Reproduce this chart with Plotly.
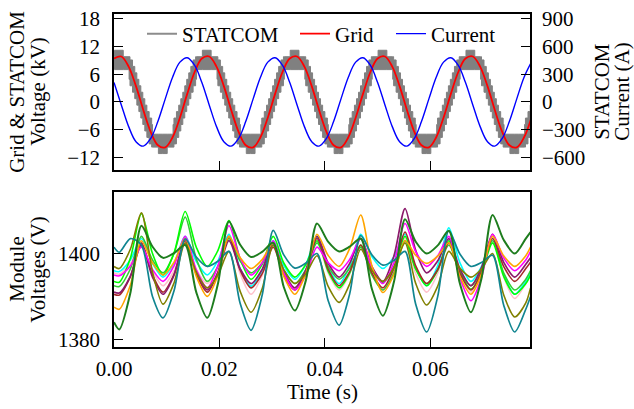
import plotly.graph_objects as go

FONT = "Liberation Serif"
FSIZE = 21
FREQ = 60.0                 # grid frequency (Hz)
SAMPLE_DT = 1.0 / 720.0     # 12 samples per grid cycle
T_END = 0.0789

# ---- top panel: grid voltage (kV) and STATCOM current (A) -------------
grid_kv = [
    9.40, 9.85, 7.66, 3.42, -1.74, -6.43, -9.40, -9.85, -7.66, -3.42, 1.74, 6.43,
    9.40, 9.85, 7.66, 3.42, -1.74, -6.43, -9.40, -9.85, -7.66, -3.42, 1.74, 6.43,
    9.40, 9.85, 7.66, 3.42, -1.74, -6.43, -9.40, -9.85, -7.66, -3.42, 1.74, 6.43,
    9.40, 9.85, 7.66, 3.42, -1.74, -6.43, -9.40, -9.85, -7.66, -3.42, 1.74, 6.43,
    9.40, 9.85, 7.66, 3.42, -1.74, -6.43, -9.40, -9.85, -7.66, -3.42,
]
current_a = [
    210, -33, -268, -431, -479, -398, -210, 33, 268, 431, 479, 398,
    210, -33, -268, -431, -479, -398, -210, 33, 268, 431, 479, 398,
    210, -33, -268, -431, -479, -398, -210, 33, 268, 431, 479, 398,
    210, -33, -268, -431, -479, -398, -210, 33, 268, 431, 479, 398,
    210, -33, -268, -431, -479, -398, -210, 33, 268, 431,
]

# STATCOM multilevel output: switching band per grid cycle.
# phase in degrees from the grid-voltage peak, lower / upper edge in kV
statcom_phase = [-180, -162, -138, -134.4, -124.1, -114.8, -106.3, -98.1, -90.0, -82.0,
                 -73.7, -65.2, -55.9, -45.6, -42, -18, 18, 42, 45.6, 55.9,
                 65.2, 73.7, 82.0, 90.0, 98.1, 106.3, 114.8, 124.1, 134.4, 138, 162]
statcom_lo = [-11.2, -9.8, -9.8, -9.1, -7.7, -6.3, -4.9, -3.5, -2.1, -0.7,
              0.7, 2.1, 3.5, 4.9, 7.0, 7.0, 7.0, 4.9, 3.5, 2.1,
              0.7, -0.7, -2.1, -3.5, -4.9, -6.3, -7.7, -9.1, -9.8, -9.8, -11.2]
statcom_hi = [-7.0, -7.0, -4.9, -3.5, -2.1, -0.7, 0.7, 2.1, 3.5, 4.9,
              6.3, 7.7, 9.1, 9.8, 9.8, 11.2, 9.8, 9.8, 9.1, 7.7,
              6.3, 4.9, 3.5, 2.1, 0.7, -0.7, -2.1, -3.5, -4.9, -7.0, -7.0]
grid_peak_times = [0.00092, 0.01759, 0.03425, 0.05092, 0.06759, 0.08426]

# ---- bottom panel: module capacitor voltages (V) -----------------------
mod_t = [0.0000, 0.0010, 0.0031, 0.0052, 0.0073, 0.0093, 0.0114, 0.0135, 0.0156, 0.0177,
         0.0197, 0.0218, 0.0239, 0.0260, 0.0281, 0.0302, 0.0322, 0.0343, 0.0364, 0.0385,
         0.0406, 0.0427, 0.0447, 0.0468, 0.0489, 0.0510, 0.0531, 0.0552, 0.0572, 0.0593,
         0.0614, 0.0635, 0.0656, 0.0677, 0.0697, 0.0718, 0.0739, 0.0760, 0.0781, 0.0790]

mod_pink = [1395.5, 1395.2, 1397.6, 1402.0, 1395.8, 1392.5, 1396.0, 1402.5, 1396.3, 1393.0,
            1397.0, 1404.5, 1395.4, 1390.5, 1394.9, 1403.0, 1395.9, 1392.0, 1395.9, 1403.0,
            1395.5, 1391.5, 1395.2, 1402.0, 1395.2, 1391.5, 1395.7, 1403.5, 1395.4, 1391.0,
            1395.4, 1403.5, 1395.4, 1391.0, 1395.6, 1404.0, 1394.6, 1389.5, 1393.0, 1395.0]
mod_cyan = [1396.0, 1395.8, 1398.5, 1403.5, 1397.7, 1394.5, 1397.8, 1404.0, 1398.2, 1395.0,
            1398.3, 1404.5, 1396.6, 1392.4, 1396.1, 1403.0, 1397.2, 1394.0, 1397.5, 1404.0,
            1396.9, 1393.0, 1397.0, 1404.5, 1399.3, 1396.5, 1399.3, 1404.5, 1396.7, 1392.5,
            1397.2, 1406.0, 1397.9, 1393.5, 1397.0, 1403.5, 1395.1, 1390.5, 1393.5, 1395.5]
mod_limegreen = [1392.5, 1392.3, 1396.4, 1404.0, 1398.5, 1395.5, 1400.1, 1408.5, 1398.8, 1393.5,
                 1397.0, 1403.5, 1398.3, 1395.5, 1397.8, 1402.0, 1396.2, 1393.0, 1396.3, 1402.5,
                 1397.0, 1394.0, 1396.6, 1401.5, 1395.0, 1391.5, 1395.5, 1403.0, 1396.5, 1393.0,
                 1396.2, 1402.0, 1395.8, 1392.5, 1396.2, 1403.0, 1395.5, 1391.5, 1394.0, 1396.0]
mod_lime = [1393.5, 1393.3, 1398.9, 1409.3, 1400.0, 1395.0, 1400.2, 1409.8, 1401.5, 1397.0,
            1400.7, 1407.7, 1398.8, 1394.0, 1397.5, 1404.0, 1397.8, 1394.5, 1397.5, 1403.0,
            1395.9, 1392.0, 1395.5, 1402.0, 1396.3, 1393.2, 1397.0, 1404.0, 1396.5, 1392.5,
            1396.2, 1403.0, 1395.7, 1391.7, 1395.5, 1402.5, 1394.7, 1390.5, 1393.0, 1395.0]
mod_brown = [1390.5, 1390.3, 1394.6, 1402.5, 1395.0, 1391.0, 1395.2, 1403.0, 1395.2, 1391.0,
             1395.6, 1404.0, 1396.2, 1392.0, 1395.3, 1401.5, 1395.0, 1391.5, 1395.7, 1403.5,
             1396.4, 1392.5, 1395.8, 1402.0, 1395.5, 1392.0, 1396.6, 1405.0, 1397.2, 1393.0,
             1396.3, 1402.5, 1395.4, 1391.5, 1395.7, 1403.5, 1397.0, 1393.5, 1396.5, 1398.0]
mod_purple = [1391.0, 1390.8, 1394.7, 1402.0, 1394.5, 1390.5, 1395.0, 1403.5, 1395.7, 1391.5,
              1395.5, 1403.0, 1396.5, 1393.0, 1396.3, 1402.5, 1395.7, 1392.0, 1396.2, 1404.0,
              1397.8, 1394.5, 1397.7, 1403.5, 1397.0, 1393.5, 1399.5, 1410.5, 1400.8, 1395.5,
              1398.3, 1403.5, 1396.4, 1392.5, 1396.7, 1404.5, 1398.0, 1394.5, 1397.5, 1399.0]
mod_magenta = [1395.0, 1394.8, 1397.1, 1401.5, 1396.3, 1393.5, 1397.2, 1404.0, 1396.2, 1392.0,
               1397.1, 1406.5, 1399.0, 1395.0, 1397.8, 1403.0, 1395.5, 1391.5, 1395.0, 1401.5,
               1397.9, 1396.0, 1398.6, 1403.5, 1396.7, 1393.0, 1397.9, 1407.0, 1400.5, 1397.0,
               1399.5, 1404.0, 1394.3, 1389.0, 1394.4, 1404.5, 1399.0, 1396.0, 1398.5, 1400.5]
mod_orange = [1387.5, 1387.0, 1392.6, 1403.0, 1397.8, 1395.0, 1398.0, 1403.5, 1394.7, 1390.0,
              1394.9, 1404.0, 1399.1, 1396.5, 1398.6, 1402.5, 1394.7, 1390.5, 1395.4, 1404.5,
              1399.6, 1397.0, 1401.2, 1409.0, 1397.2, 1390.9, 1395.1, 1403.0, 1399.6, 1397.7,
              1399.4, 1402.5, 1394.7, 1390.5, 1395.2, 1404.0, 1399.5, 1397.0, 1399.5, 1401.5]
mod_olive = [1397.0, 1396.5, 1401.0, 1409.5, 1395.7, 1388.2, 1393.2, 1402.5, 1395.7, 1392.0,
             1395.0, 1400.5, 1391.3, 1386.3, 1391.8, 1402.0, 1396.2, 1393.0, 1395.3, 1399.5,
             1392.4, 1388.6, 1392.9, 1401.0, 1396.1, 1393.5, 1396.7, 1402.5, 1393.1, 1388.0,
             1392.4, 1400.5, 1396.6, 1394.5, 1396.4, 1400.0, 1390.4, 1385.2, 1388.5, 1392.0]
mod_teal = [1401.5, 1400.3, 1403.5, 1402.0, 1390.0, 1385.0, 1391.4, 1403.4, 1399.2, 1397.0,
            1398.2, 1400.5, 1388.5, 1382.1, 1390.3, 1405.4, 1399.7, 1396.6, 1397.8, 1400.0,
            1389.1, 1383.3, 1390.6, 1404.2, 1399.7, 1397.3, 1398.4, 1400.5, 1388.3, 1381.7,
            1390.0, 1405.3, 1399.9, 1397.0, 1397.9, 1399.6, 1388.0, 1381.7, 1387.0, 1390.0]
mod_green = [1384.0, 1382.3, 1390.8, 1406.5, 1401.6, 1399.0, 1400.1, 1402.0, 1391.0, 1385.0,
             1392.9, 1407.5, 1402.1, 1399.2, 1400.4, 1402.5, 1392.2, 1386.7, 1393.8, 1407.0,
             1402.8, 1400.5, 1401.6, 1403.5, 1391.8, 1385.5, 1393.4, 1408.0, 1402.8, 1400.0,
             1401.9, 1405.3, 1393.0, 1386.3, 1394.2, 1409.0, 1403.2, 1400.0, 1403.5, 1405.0]

modules = [
    (mod_pink, "#ffc0cb", 1.6), (mod_cyan, "#00ffff", 1.6), (mod_limegreen, "#32cd32", 1.6),
    (mod_lime, "#00ff00", 1.6), (mod_brown, "#a52a2a", 1.6), (mod_purple, "#8b1a6b", 1.7),
    (mod_magenta, "#ff00ff", 1.6), (mod_orange, "#ffa500", 1.6), (mod_olive, "#808000", 1.6),
    (mod_teal, "#108590", 1.7), (mod_green, "#1e7d1e", 2.0),
]

fig = go.Figure()

# STATCOM band, one switching pattern per grid cycle
sx, slo, shi = [], [], []
for tc in grid_peak_times:
    for ph, lo, hi in zip(statcom_phase, statcom_lo, statcom_hi):
        sx.append(tc + ph / 360.0 / FREQ)
        slo.append(lo)
        shi.append(hi)
sx.append(grid_peak_times[-1] + 0.5 / FREQ)
slo.append(statcom_lo[-1])
shi.append(statcom_hi[-1])

band_color = "rgb(128,128,128)"
fig.add_trace(go.Scatter(x=sx, y=slo, mode="lines", line=dict(color=band_color, width=1, shape="hv"),
                         showlegend=False, hoverinfo="skip", xaxis="x", yaxis="y"))
fig.add_trace(go.Scatter(x=sx, y=shi, mode="lines", line=dict(color=band_color, width=1, shape="hv"),
                         fill="tonexty", fillcolor=band_color, showlegend=False, hoverinfo="skip",
                         xaxis="x", yaxis="y"))
# legend entry for the converter voltage
fig.add_trace(go.Scatter(x=[None], y=[None], mode="lines", name="STATCOM", legend="legend",
                         line=dict(color="#8c8c8c", width=2), xaxis="x", yaxis="y"))

t_grid = [i * SAMPLE_DT for i in range(len(grid_kv))]
fig.add_trace(go.Scatter(x=t_grid, y=grid_kv, mode="lines", name="Grid", legend="legend2",
                         line=dict(color="#ff0000", width=1.8, shape="spline"), xaxis="x", yaxis="y"))
t_cur = [i * SAMPLE_DT for i in range(len(current_a))]
fig.add_trace(go.Scatter(x=t_cur, y=current_a, mode="lines", name="Current", legend="legend3",
                         line=dict(color="#0000ff", width=1.4, shape="spline"), xaxis="x", yaxis="y2"))

for vals, col, w in modules:
    fig.add_trace(go.Scatter(x=mod_t, y=vals, mode="lines", showlegend=False,
                             line=dict(color=col, width=w, shape="spline", smoothing=0.8),
                             xaxis="x2", yaxis="y3"))

tickfont = dict(family=FONT, size=FSIZE, color="black")
common = dict(showline=True, linecolor="black", linewidth=1.6, ticks="inside", ticklen=9,
              tickwidth=1.4, tickcolor="black", showgrid=False, zeroline=False, tickfont=tickfont)

TOP = [0.5324, 1.0]
BOT = [0.0, 0.4647]
xticks = [0.0, 0.02, 0.04, 0.06]

def legend_at(xpx):
    return dict(orientation="h", x=(xpx - 114) / 416.0, xanchor="left", y=0.94, yanchor="middle",
                bgcolor="rgba(0,0,0,0)", font=dict(family=FONT, size=FSIZE), itemwidth=30)

fig.update_layout(
    width=634, height=409,
    margin=dict(l=114, r=104, t=7, b=62),
    plot_bgcolor="white", paper_bgcolor="white",
    font=dict(family=FONT, size=FSIZE, color="black"),
    xaxis=dict(common, domain=[0, 1], anchor="y", range=[0, T_END], tickvals=xticks,
               showticklabels=False, mirror=True),
    yaxis=dict(common, domain=TOP, anchor="x", range=[-14.7, 19.06], tickvals=[-12, -6, 0, 6, 12, 18],
               mirror=True, ticklabelstandoff=8),
    yaxis2=dict(common, overlaying="y", side="right", anchor="x", range=[-735, 953],
                tickvals=[-600, -300, 0, 300, 600, 900], ticklabelstandoff=6),
    xaxis2=dict(common, domain=[0, 1], anchor="y3", range=[0, T_END], tickvals=xticks,
                tickformat=".2f", mirror=True, ticklabelstandoff=2),
    yaxis3=dict(common, domain=BOT, anchor="x2", range=[1378.2, 1414.3], tickvals=[1380, 1400],
                mirror=True, ticklabelstandoff=8),
    legend=legend_at(142),
    legend2=legend_at(295),
    legend3=legend_at(391),
    showlegend=True,
)

def vtitle(text, xpx, yc):
    fig.add_annotation(text=text, textangle=-90, xref="paper", yref="paper",
                       x=(xpx - 114) / 416.0, y=yc, xanchor="center", yanchor="middle",
                       showarrow=False, font=dict(family=FONT, size=FSIZE, color="black"))

top_c = (TOP[0] + TOP[1]) / 2
bot_c = (BOT[0] + BOT[1]) / 2
vtitle("Grid &amp; STATCOM", 17, top_c)
vtitle("Voltage (kV)", 38, top_c)
vtitle("STATCOM", 602, top_c)
vtitle("Current (A)", 622, top_c)
vtitle("Module", 17, bot_c)
vtitle("Voltages (V)", 38, bot_c)
fig.add_annotation(text="Time (s)", xref="paper", yref="paper", x=0.5, y=1 - (393 - 7) / 340.0,
                   xanchor="center", yanchor="middle", showarrow=False,
                   font=dict(family=FONT, size=FSIZE, color="black"))

fig.write_html("out.html")
